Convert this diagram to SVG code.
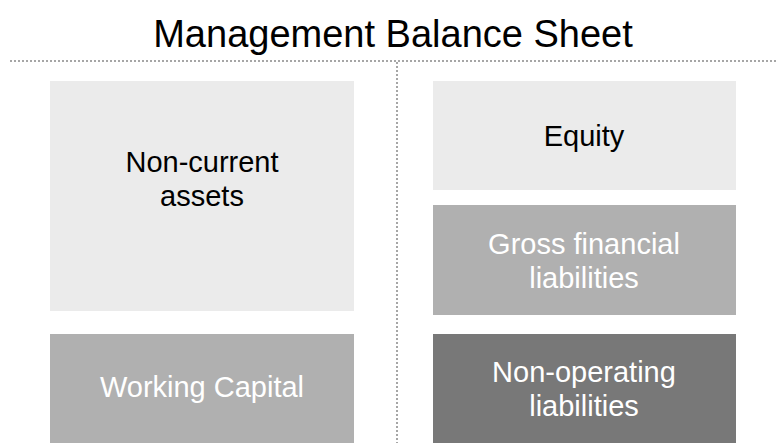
<svg xmlns="http://www.w3.org/2000/svg" width="776" height="443" viewBox="0 0 776 443">
<style>
text{font-family:"Liberation Sans",Arial,sans-serif;font-size:29px;text-anchor:middle}
.t{font-size:38px;fill:#000}
.light{fill:#EBEBEB}
.mid{fill:#B0B0B0}
.dark{fill:#787878}
.dk{fill:#000}
.wh{fill:#fff}
.dot{stroke:#A6A6A6;stroke-width:2;stroke-dasharray:2 2;fill:none}
</style>
<rect width="776" height="443" fill="#fff"/>
<text class="t" x="393" y="47">Management Balance Sheet</text>
<g id="connectors">
<line class="dot" x1="10" y1="61" x2="776" y2="61"/>
<line class="dot" x1="397" y1="62" x2="397" y2="443"/>
</g>
<g id="noncurrent">
<rect class="light" x="50" y="81" width="304" height="230"/>
<text class="dk" x="202" y="172">Non-current</text>
<text class="dk" x="202" y="206">assets</text>
</g>
<g id="workingcapital">
<rect class="mid" x="50" y="334" width="304" height="109"/>
<text class="wh" x="202" y="397">Working Capital</text>
</g>
<g id="equity">
<rect class="light" x="433" y="81" width="303" height="109"/>
<text class="dk" x="584" y="146">Equity</text>
</g>
<g id="grossfinancial">
<rect class="mid" x="433" y="205" width="303" height="110"/>
<text class="wh" x="584" y="254">Gross financial</text>
<text class="wh" x="584" y="288">liabilities</text>
</g>
<g id="nonoperating">
<rect class="dark" x="433" y="334" width="303" height="109"/>
<text class="wh" x="584" y="382">Non-operating</text>
<text class="wh" x="584" y="416">liabilities</text>
</g>
</svg>
